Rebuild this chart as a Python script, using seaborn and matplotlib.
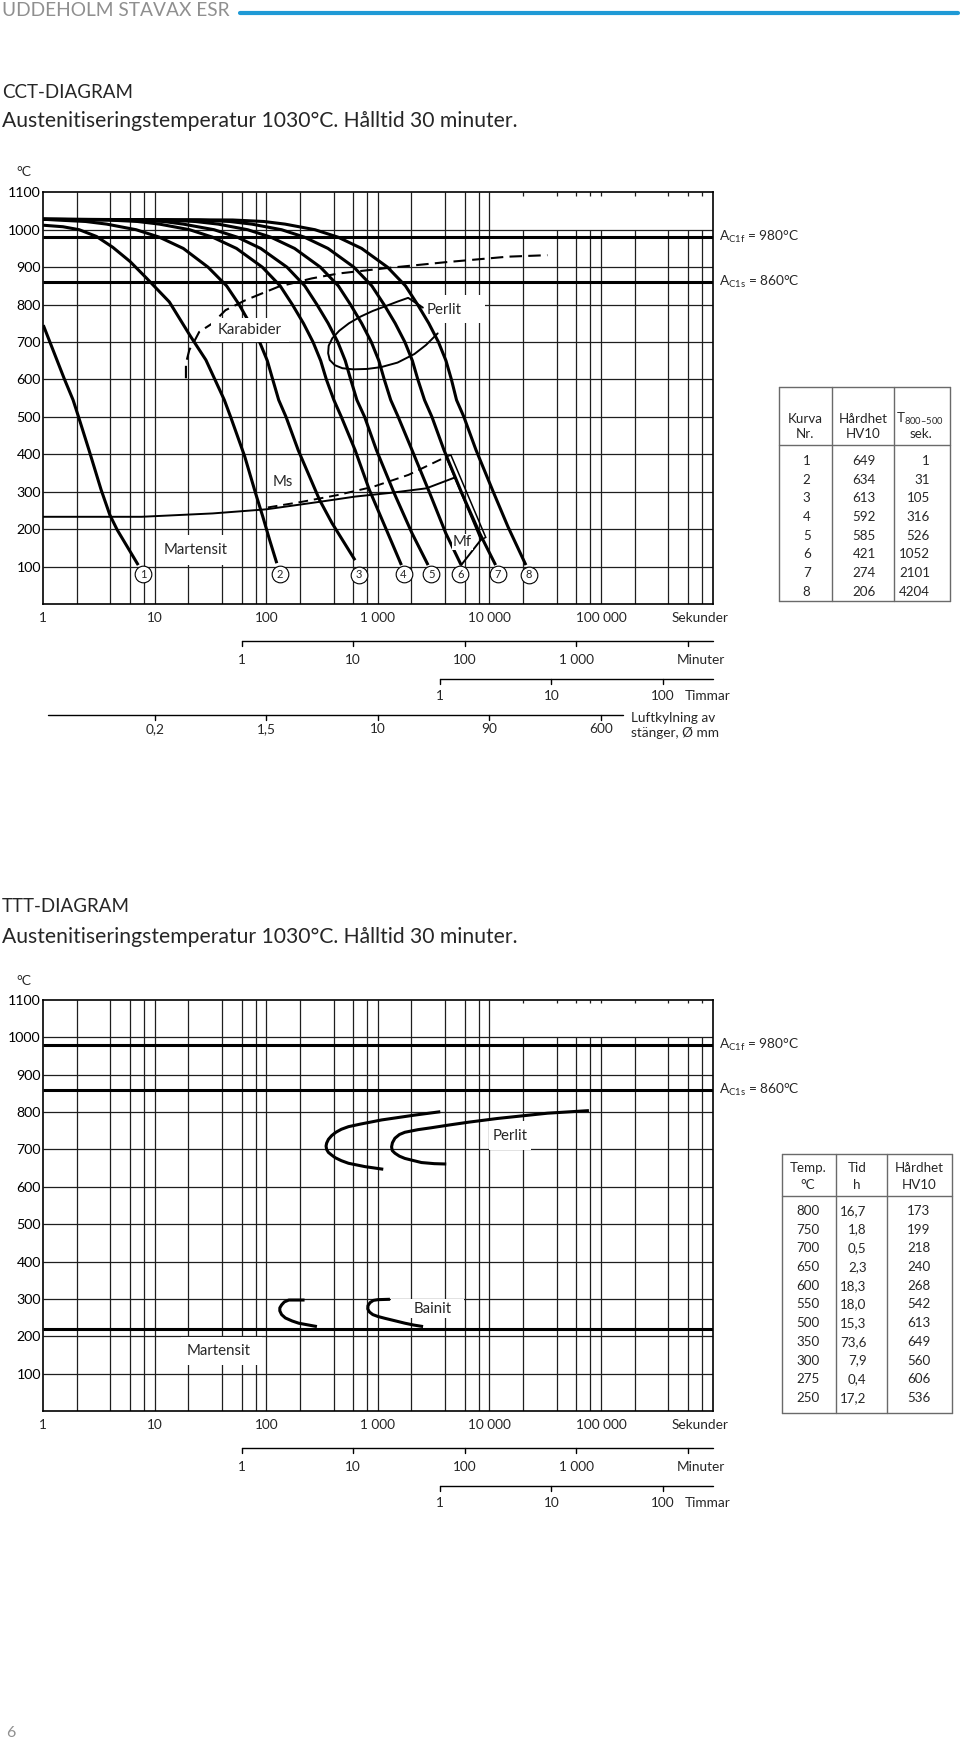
import matplotlib
matplotlib.use("Agg")
import matplotlib.pyplot as plt
from matplotlib.lines import Line2D
from matplotlib.patches import Rectangle, Polygon
from matplotlib.ticker import NullLocator
import pandas as pd
import seaborn as sns

# ---------------- CCT data: time (s), temperature (C) ----------------
c1_t = [1, 1.55, 1.85, 2.07, 2.57, 3.3, 3.95, 4.6, 7.1]
c1_T = [745, 600, 545, 500, 411, 305, 238, 198, 104]
c2_t = [1, 1.5, 2.1, 3, 4.2, 6, 8.4, 13.5, 20.8, 28.7, 42, 47.8, 64, 80, 93, 107, 124]
c2_T = [1012, 1008, 1000, 982, 953, 915, 871, 807, 716, 652, 545, 500, 394, 296, 233, 171, 109]
c3_t = [1, 1.3, 2.4, 3.7, 6.8, 11, 18, 30, 44, 57, 71, 87, 102, 114, 129, 150, 193, 300, 388, 624]
c3_T = [1028, 1026, 1022, 1015, 1000, 980, 950, 900, 850, 800, 750, 700, 650, 600, 545, 500, 411, 278, 216, 117]
c4_t = [1, 3.8, 7, 11, 20.5, 33, 54, 92, 133, 171, 215, 262, 307, 345, 403, 470, 625, 838, 1124, 1625]
c4_T = [1028, 1026, 1022, 1015, 1000, 980, 950, 900, 850, 800, 750, 700, 650, 600, 545, 500, 411, 305, 216, 104]
c5_t = [1, 6.3, 12, 18, 34, 55, 89, 153, 221, 284, 358, 437, 510, 570, 648, 760, 971, 1400, 2023, 2818]
c5_T = [1028, 1026, 1022, 1015, 1000, 980, 950, 900, 850, 800, 750, 700, 650, 600, 545, 500, 411, 296, 189, 104]
c6_t = [1, 12.6, 23, 37, 68, 110, 179, 305, 442, 568, 715, 873, 1020, 1140, 1303, 1520, 2024, 2918, 4063, 5580]
c6_T = [1028, 1026, 1022, 1015, 1000, 980, 950, 900, 850, 800, 750, 700, 650, 600, 545, 500, 411, 296, 189, 104]
c7_t = [1, 25, 47, 74, 137, 220, 357, 609, 882, 1135, 1429, 1744, 2038, 2280, 2618, 3050, 3917, 5659, 8172, 11360]
c7_T = [1028, 1026, 1022, 1015, 1000, 980, 950, 900, 850, 800, 750, 700, 650, 600, 545, 500, 411, 296, 189, 104]
c8_t = [1, 50, 95, 147, 273, 440, 715, 1219, 1766, 2270, 2859, 3489, 4078, 4560, 5070, 5900, 7590, 10950, 14680, 21230]
c8_T = [1028, 1026, 1022, 1015, 1000, 980, 950, 900, 850, 800, 750, 700, 650, 600, 545, 500, 411, 296, 206, 104]

curve_mark_t = [7.9, 133, 678, 1698, 3006, 5492, 11860, 22650]
curve_mark_T = [80, 80, 78, 80, 80, 80, 80, 78]

karabider_t = [19.0, 19.0, 20.4, 22.5, 25, 32.9, 43, 65.2, 129, 256, 443, 1157, 3970, 14600, 33100]
karabider_T = [603, 643, 679, 701, 727, 750, 785, 812, 848, 870, 883, 897, 913, 928, 932]

perlit_loop_t = [2530, 1867, 1500, 1200, 900, 700, 550, 450, 390, 362, 358, 370, 411, 480,
                 600, 800, 1071, 1500, 2127, 2700, 3434]
perlit_loop_T = [792, 818, 808, 797, 783, 768, 750, 730, 710, 690, 670, 652, 638, 630,
                 627, 628, 633, 645, 668, 692, 723]

ms_t = [1, 7.6, 33, 100, 300, 625, 1303, 2716, 3917, 4900]
ms_T = [233, 233, 242, 253, 273, 287, 297, 309, 327, 338]
ms_dash_t = [103, 208, 433, 902, 1880, 4074]
ms_dash_T = [258, 273, 291, 313, 345, 393]
mf_box_t = [4074, 4512, 9270, 8360]
mf_box_T = [393, 398, 178, 171]
mf_link_t = [8360, 5580]
mf_link_T = [171, 104]

cct_kurva = ["1", "2", "3", "4", "5", "6", "7", "8"]
cct_hardhet = ["649", "634", "613", "592", "585", "421", "274", "206"]
cct_t800 = ["1", "31", "105", "316", "526", "1052", "2101", "4204"]

# ---------------- TTT data ----------------
ps_t = [3625, 2143, 1079, 700, 545, 470, 420, 385, 360, 347, 343, 347, 360, 385, 414, 470,
        545, 767, 1117]
ps_T = [801, 792, 779, 768, 761, 754, 746, 737, 727, 717, 709, 700, 692, 685, 678, 670,
        663, 654, 647]
pf_t = [78000, 33100, 11860, 6500, 4250, 3000, 2290, 1745, 1560, 1421, 1350, 1326, 1345,
        1421, 1560, 1745, 2100, 2455, 3200, 4100]
pf_T = [804, 797, 783, 773, 765, 758, 753, 746, 740, 730, 718, 707, 697, 690, 682, 676,
        670, 665, 662, 661]
bs_t = [220, 159, 145, 137, 132, 132, 137, 148, 170, 195, 240, 284]
bs_T = [297, 297, 292, 284, 276, 268, 258, 249, 241, 235, 230, 226]
bf_t = [1282, 1000, 910, 850, 815, 812, 840, 900, 1000, 1157, 1400, 1745, 2100, 2541]
bf_T = [299, 298, 296, 290, 282, 273, 265, 258, 253, 248, 242, 235, 230, 226]

ttt_temp = ["800", "750", "700", "650", "600", "550", "500", "350", "300", "275", "250"]
ttt_tid = ["16,7", "1,8", "0,5", "2,3", "18,3", "18,0", "15,3", "73,6", "7,9", "0,4", "17,2"]
ttt_hv = ["173", "199", "218", "240", "268", "542", "613", "649", "560", "606", "536"]

# ---------------- axis scales ----------------
temp_ticks = [100, 200, 300, 400, 500, 600, 700, 800, 900, 1000, 1100]
sec_ticks = [1, 10, 100, 1000, 10000, 100000]
sec_labels = ["1", "10", "100", "1 000", "10 000", "100 000"]
min_ticks = [1, 10, 100, 1000, 10000]
min_labels = ["1", "10", "100", "1 000", ""]
hour_ticks = [1, 10, 100]
hour_labels = ["1", "10", "100"]
bar_ticks = [10, 100, 1000, 10000, 100000]
bar_labels = ["0,2", "1,5", "10", "90", "600"]
AC1F, AC1S, MS_TTT = 980, 860, 220

sns.set_theme(style="white")
plt.rcParams["font.family"] = ["Lato", "DejaVu Sans"]
plt.rcParams["mathtext.fontset"] = "custom"
plt.rcParams["mathtext.rm"] = "Lato"
plt.rcParams["mathtext.it"] = "Lato:italic"
plt.rcParams["mathtext.bf"] = "Lato:bold"

W, H = 960, 1743
fig = plt.figure(figsize=(W / 100, H / 100), dpi=100)
fig.patch.set_facecolor("white")
GRID = "#1e1e1e"
TAB = "#6a6a6a"
FS = 9.8
TF = 9.6


def fx(x):
    return x / W


def fy(y):
    return 1 - y / H


def ptext(x, y, s, **kw):
    kw.setdefault("va", "center")
    fig.text(fx(x), fy(y), s, **kw)


def ctext(x, y, s, **kw):
    # table cell text: put the baseline half a digit height below the row centre
    fig.text(fx(x), fy(y + 4.8), s, va="baseline", fontsize=TF, **kw)


def pline(x0, y0, x1, y1, color="black", lw=1.0):
    fig.add_artist(Line2D([fx(x0), fx(x1)], [fy(y0), fy(y1)],
                          transform=fig.transFigure, color=color, lw=lw))


def make_axes(top, bottom, thick):
    ax = fig.add_axes([fx(43.3), fy(bottom), (712.5 - 43.3) / W, (bottom - top) / H])
    ax.set_xscale("log")
    for k in range(6):
        for m in (1, 2, 4, 6, 8):
            t = m * 10 ** k
            if t == 1:
                continue
            if t <= 1e4:
                ax.vlines(t, 0, 1100, color=GRID, lw=0.9, zorder=1)
            else:
                ax.vlines(t, 0, 1000, color=GRID, lw=0.9, zorder=1)
                ax.vlines(t, 1091, 1100, color=GRID, lw=0.9, zorder=1)
    ax.hlines(temp_ticks[:-1], 1, 1e6, color=GRID, lw=0.9, zorder=1)
    ax.hlines(thick, 1, 1e6, color="black", lw=2.2, zorder=1.5)
    ax.set_xlim(1, 1e6)
    ax.set_ylim(0, 1100)
    ax.xaxis.set_major_locator(NullLocator())
    ax.xaxis.set_minor_locator(NullLocator())
    ax.set_yticks(temp_ticks)
    ax.set_yticklabels([str(v) for v in temp_ticks])
    ax.tick_params(axis="y", length=0, pad=1.8, labelsize=10.2, labelcolor="black")
    for sp in ax.spines.values():
        sp.set_color("black")
        sp.set_linewidth(1.2)
    ax.text(1.14e6, AC1F, r"A$_{\mathrm{C1f}}$ = 980°C", ha="left", va="center",
            fontsize=FS, clip_on=False)
    ax.text(1.14e6, AC1S, r"A$_{\mathrm{C1s}}$ = 860°C", ha="left", va="center",
            fontsize=FS, clip_on=False)
    return ax


def draw_curves(ax, curves, lw=2.2):
    rows = []
    for name, (ts, Ts) in curves.items():
        for t, T in zip(ts, Ts):
            rows.append({"curve": name, "t": t, "T": T})
    df = pd.DataFrame(rows)
    sns.lineplot(data=df, x="t", y="T", units="curve", estimator=None, sort=False,
                 color="black", lw=lw, ax=ax, legend=False, zorder=3)
    for ln in ax.get_lines()[-len(curves):]:
        ln.set_solid_joinstyle("round")
        ln.set_solid_capstyle("butt")
    ax.set_xlabel("")
    ax.set_ylabel("")
    ax.set_xlim(1, 1e6)
    ax.set_ylim(0, 1100)


def white_box(ax, t0, t1, T0, T1, z):
    ax.add_patch(Rectangle((t0, T0), t1 - t0, T1 - T0, facecolor="white",
                           edgecolor="none", zorder=z))


def time_axes(ax, bars):
    kw = dict(ha="center", va="center", fontsize=FS, clip_on=False)
    lk = dict(color="black", lw=1.0, clip_on=False)
    for t, s in zip(sec_ticks, sec_labels):
        ax.text(t, -37, s, **kw)
    ax.text(1.4e6, -37, "Sekunder", ha="right", va="center", fontsize=FS)
    ax.plot([60, 1e6], [-98, -98], **lk)
    for m, s in zip(min_ticks, min_labels):
        ax.plot([m * 60, m * 60], [-98, -112], **lk)
        ax.text(m * 60, -150, s, **kw)
    ax.text(1.3e6, -150, "Minuter", ha="right", va="center", fontsize=FS)
    ax.plot([3600, 1e6], [-200, -200], **lk)
    for h, s in zip(hour_ticks, hour_labels):
        ax.plot([h * 3600, h * 3600], [-200, -214], **lk)
        ax.text(h * 3600, -246, s, **kw)
    ax.text(1.44e6, -246, "Timmar", ha="right", va="center", fontsize=FS)
    if bars:
        ax.plot([1.11, 1.58e5], [-297, -297], **lk)
        for t, s in zip(bar_ticks, bar_labels):
            ax.plot([t, t], [-297, -311], **lk)
            ax.text(t, -335, s, **kw)
        ax.text(1.86e5, -305, "Luftkylning av", ha="left", va="center", fontsize=FS)
        ax.text(1.86e5, -345, "stänger, Ø mm", ha="left", va="center", fontsize=FS)


# ---------------- page header ----------------
ptext(2, 11, "UDDEHOLM STAVAX ESR", ha="left", fontsize=13.8, color="#8f8f8f")
pline(240, 13.3, 958, 13.3, color="#1f9ad6", lw=3.0)
ptext(2, 92, "CCT-DIAGRAM", ha="left", fontsize=13.5)
ptext(2, 121, "Austenitiseringstemperatur 1030°C. Hålltid 30 minuter.", ha="left",
      fontsize=15.2)
ptext(24, 172, "°C", ha="center", fontsize=10)

# ---------------- CCT diagram ----------------
ax1 = make_axes(192.3, 604, [AC1F, AC1S])
draw_curves(ax1, {"1": (c1_t, c1_T), "2": (c2_t, c2_T), "3": (c3_t, c3_T),
                  "4": (c4_t, c4_T), "5": (c5_t, c5_T), "6": (c6_t, c6_T),
                  "7": (c7_t, c7_T), "8": (c8_t, c8_T)})
ax1.plot(karabider_t, karabider_T, color="black", lw=1.5, ls=(0, (6, 3)), zorder=3)
ax1.plot(perlit_loop_t, perlit_loop_T, color="black", lw=1.4, zorder=3)
ax1.plot(ms_t, ms_T, color="black", lw=1.4, zorder=3)
ax1.plot(ms_dash_t, ms_dash_T, color="black", lw=1.4, ls=(0, (5, 3)), zorder=3)
ax1.add_patch(Polygon(list(zip(mf_box_t, mf_box_T)), closed=True, fill=False,
                      edgecolor="black", lw=1.1, zorder=3))
ax1.plot(mf_link_t, mf_link_T, color="black", lw=1.4, zorder=3)

white_box(ax1, 32, 158, 700, 764, 3.5)
white_box(ax1, 2440, 9080, 751, 825, 2)
white_box(ax1, 11, 49, 104, 184, 2)
ax1.text(70.5, 731, "Karabider", ha="center", va="center", fontsize=10.8, zorder=5)
ax1.text(3950, 786, "Perlit", ha="center", va="center", fontsize=10.8, zorder=5)
ax1.text(139, 327, "Ms", ha="center", va="center", fontsize=10.8, zorder=5)
ax1.text(23, 144, "Martensit", ha="center", va="center", fontsize=10.8, zorder=5)
ax1.text(5740, 166, "Mf", ha="center", va="center", fontsize=10.8, zorder=5,
         bbox=dict(facecolor="white", edgecolor="none", pad=0.5))
ax1.plot(curve_mark_t, curve_mark_T, "o", ms=12, mfc="white", mec="black", mew=0.8,
         zorder=6, clip_on=False)
for t, T, s in zip(curve_mark_t, curve_mark_T, cct_kurva):
    ax1.text(t, T, s, ha="center", va="center", fontsize=8, zorder=7)
time_axes(ax1, True)

# CCT table
pline(779.3, 387.3, 950, 387.3, TAB)
pline(779.3, 601, 950, 601, TAB)
pline(779.3, 387.3, 779.3, 601, TAB)
pline(950, 387.3, 950, 601, TAB)
pline(831.7, 387.3, 831.7, 601, TAB)
pline(894, 387.3, 894, 601, TAB)
pline(779.3, 445, 950, 445, TAB)
ctext(805, 418.3, "Kurva", ha="center")
ctext(805, 433, "Nr.", ha="center")
ctext(863.3, 418.3, "Hårdhet", ha="center")
ctext(863.3, 433, "HV10", ha="center")
ctext(920, 418.3, r"T$_{\mathrm{800–500}}$", ha="center")
ctext(921, 433, "sek.", ha="center")
for i in range(len(cct_kurva)):
    y = 460 + i * 18.7
    ctext(806.7, y, cct_kurva[i], ha="center")
    ctext(864, y, cct_hardhet[i], ha="center")
    ctext(930, y, cct_t800[i], ha="right")

# ---------------- TTT diagram ----------------
ptext(2, 906.7, "TTT-DIAGRAM", ha="left", fontsize=13.5)
ptext(2, 936.7, "Austenitiseringstemperatur 1030°C. Hålltid 30 minuter.", ha="left",
      fontsize=15.2)
ptext(24, 981, "°C", ha="center", fontsize=10)

ax2 = make_axes(1000, 1411, [AC1F, AC1S, MS_TTT])
white_box(ax2, 10000, 23500, 698, 776, 2)
white_box(ax2, 1309, 5900, 249, 301, 2)
white_box(ax2, 17.2, 91.8, 123, 197, 2)
draw_curves(ax2, {"ps": (ps_t, ps_T), "pf": (pf_t, pf_T),
                  "bs": (bs_t, bs_T), "bf": (bf_t, bf_T)})
ax2.text(15340, 737, "Perlit", ha="center", va="center", fontsize=10.8, zorder=5)
ax2.text(3120, 273, "Bainit", ha="center", va="center", fontsize=10.8, zorder=5)
ax2.text(37.2, 161, "Martensit", ha="center", va="center", fontsize=10.8, zorder=5)
time_axes(ax2, False)

# TTT table
pline(781.7, 1154, 952, 1154, TAB)
pline(781.7, 1412.5, 952, 1412.5, TAB)
pline(781.7, 1154, 781.7, 1412.5, TAB)
pline(952, 1154, 952, 1412.5, TAB)
pline(835.6, 1154, 835.6, 1412.5, TAB)
pline(886.7, 1154, 886.7, 1412.5, TAB)
pline(781.7, 1196, 952, 1196, TAB)
ctext(808, 1166.7, "Temp.", ha="center")
ctext(808, 1184.4, "°C", ha="center")
ctext(856.7, 1166.7, "Tid", ha="center")
ctext(856.7, 1184.4, "h", ha="center")
ctext(919, 1166.7, "Hårdhet", ha="center")
ctext(919, 1184.4, "HV10", ha="center")
for i in range(len(ttt_temp)):
    y = 1210 + i * 18.73
    ctext(808, y, ttt_temp[i], ha="center")
    ctext(866.7, y, ttt_tid[i], ha="right")
    ctext(919, y, ttt_hv[i], ha="center")

ptext(11, 1733, "6", ha="center", fontsize=11.5, color="#8f8f8f")

fig.savefig("out.png", dpi=100)
